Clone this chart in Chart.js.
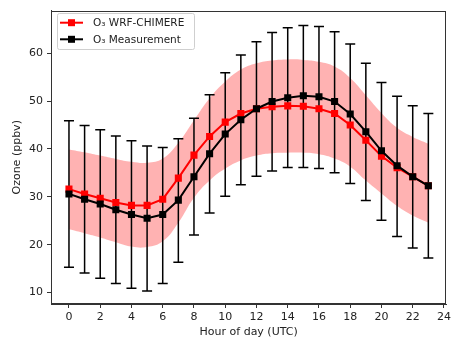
<!DOCTYPE html>
<html>
<head>
<meta charset="utf-8">
<script src="https://cdn.jsdelivr.net/npm/chart.js@4.4.1/dist/chart.umd.min.js"></script>
<style>
  html, body { margin: 0; padding: 0; background: #fff; }
  #wrap { width: 454px; height: 344px; }
</style>
</head>
<body>
<div id="wrap"><canvas id="ozoneChart" width="454" height="344"></canvas></div>
<script>
// Hourly ozone, model vs measurement
const hours = [0, 1, 2, 3, 4, 5, 6, 7, 8, 9, 10, 11, 12, 13, 14, 15, 16, 17, 18, 19, 20, 21, 22, 23];
const modelO3 = [31.6, 30.6, 29.7, 28.8, 28.2, 28.2, 29.5, 33.9, 38.7, 42.6, 45.6, 47.4, 48.4, 48.8, 49.0, 48.9, 48.4, 47.4, 45.0, 41.8, 38.5, 36.1, 34.2, 32.3];
const measO3 = [30.6, 29.5, 28.5, 27.3, 26.3, 25.5, 26.3, 29.3, 34.2, 39.0, 43.1, 46.1, 48.4, 49.9, 50.7, 51.1, 50.9, 49.9, 47.3, 43.6, 39.6, 36.5, 34.2, 32.3];
const measHigh = [45.9, 44.9, 44.0, 42.7, 41.7, 40.6, 40.3, 42.1, 46.4, 51.3, 55.9, 59.6, 62.4, 64.3, 65.3, 65.8, 65.6, 64.5, 61.9, 57.9, 53.9, 51.0, 49.0, 47.4];
const measLow = [15.3, 14.1, 13.0, 11.9, 10.9, 10.3, 11.9, 16.3, 22.0, 26.6, 30.1, 32.5, 34.3, 35.4, 36.1, 36.1, 35.9, 35.0, 32.8, 29.2, 25.1, 21.7, 19.3, 17.2];
const bandHigh = [39.9, 39.3, 38.6, 37.9, 37.3, 37.1, 38.0, 41.3, 46.0, 50.6, 54.1, 56.6, 57.9, 58.5, 58.7, 58.6, 58.2, 57.2, 54.8, 51.2, 47.5, 44.4, 42.5, 41.1];
const bandLow = [23.2, 22.4, 21.5, 20.5, 19.6, 19.5, 20.7, 24.6, 29.8, 33.4, 35.9, 37.6, 38.6, 39.1, 39.2, 39.2, 38.9, 38.0, 36.3, 33.4, 30.7, 28.1, 26.1, 24.6];
const xTicks = [0, 2, 4, 6, 8, 10, 12, 14, 16, 18, 20, 22, 24];
const yTicks = [10, 20, 30, 40, 50, 60];

const FONT = 'DejaVu Sans';
const TEXT_COLOR = '#222';
const FRAME_COLOR = '#333';

function toPoints(values) {
  return hours.map((h, i) => ({ x: h, y: values[i] }));
}

// Error bars for the measurement series, drawn just before the red line
const errorBarPlugin = {
  id: 'errorBars',
  beforeDatasetDraw(chart, args) {
    if (args.index !== 1) return;
    const ctx = chart.ctx;
    const xs = chart.scales.x, ys = chart.scales.y;
    ctx.save();
    ctx.strokeStyle = '#000';
    ctx.lineWidth = 1.5;
    hours.forEach((h, i) => {
      const px = xs.getPixelForValue(h);
      const top = ys.getPixelForValue(measHigh[i]);
      const bot = ys.getPixelForValue(measLow[i]);
      ctx.beginPath();
      ctx.moveTo(px, top);
      ctx.lineTo(px, bot);
      ctx.moveTo(px - 5, top);
      ctx.lineTo(px + 5, top);
      ctx.moveTo(px - 5, bot);
      ctx.lineTo(px + 5, bot);
      ctx.stroke();
    });
    ctx.restore();
  }
};

// Box around the plot and the legend in the upper left corner
const framePlugin = {
  id: 'frameAndLegend',
  afterDraw(chart) {
    const ctx = chart.ctx;
    const a = chart.chartArea;
    ctx.save();
    ctx.strokeStyle = FRAME_COLOR;
    ctx.lineWidth = 1;
    ctx.strokeRect(Math.round(a.left) + 0.5, Math.round(a.top) + 0.5,
      Math.round(a.right - a.left) - 1, Math.round(a.bottom - a.top) - 1);

    // legend
    const bx = 57, by = 13, bw = 137, bh = 36;
    ctx.fillStyle = 'rgba(255,255,255,0.85)';
    ctx.strokeStyle = '#cfcfcf';
    ctx.beginPath();
    ctx.roundRect(bx + 0.5, by + 0.5, bw, bh, 2);
    ctx.fill();
    ctx.stroke();

    const entries = [chart.data.datasets[1], chart.data.datasets[0]];
    entries.forEach((ds, i) => {
      const y = 22.7 + i * 16.6;
      ctx.strokeStyle = ds.borderColor;
      ctx.lineWidth = 2;
      ctx.beginPath();
      ctx.moveTo(60, y);
      ctx.lineTo(83, y);
      ctx.stroke();
      ctx.fillStyle = ds.borderColor;
      ctx.fillRect(71.5 - 3.5, y - 3.5, 7, 7);
      ctx.fillStyle = TEXT_COLOR;
      ctx.font = '10.5px "' + FONT + '"';
      ctx.textBaseline = 'middle';
      ctx.textAlign = 'left';
      ctx.fillText(ds.label, 93, y + 0.5);
    });
    ctx.restore();
  }
};

const ctx = document.getElementById('ozoneChart').getContext('2d');
const chart = new Chart(ctx, {
  type: 'line',
  data: {
    datasets: [
      {
        label: 'O\u2083 Measurement',
        data: toPoints(measO3),
        borderColor: '#000',
        backgroundColor: '#000',
        borderWidth: 2,
        pointStyle: 'rect',
        pointRadius: 5,
        pointBorderWidth: 0,
        tension: 0,
        fill: false
      },
      {
        label: 'O\u2083 WRF-CHIMERE',
        data: toPoints(modelO3),
        borderColor: '#ff0000',
        backgroundColor: '#ff0000',
        borderWidth: 2,
        pointStyle: 'rect',
        pointRadius: 5,
        pointBorderWidth: 0,
        tension: 0,
        fill: false
      },
      {
        label: 'band high',
        data: toPoints(bandHigh),
        borderWidth: 0,
        borderColor: 'rgba(255,0,0,0)',
        backgroundColor: 'rgba(255,0,0,0.3)',
        pointRadius: 0,
        tension: 0.45,
        fill: '+1'
      },
      {
        label: 'band low',
        data: toPoints(bandLow),
        borderWidth: 0,
        borderColor: 'rgba(255,0,0,0)',
        pointRadius: 0,
        tension: 0.45,
        fill: false
      }
    ]
  },
  options: {
    responsive: false,
    animation: false,
    devicePixelRatio: 1,
    layout: { padding: { top: 7, right: 5, left: 0, bottom: 0 } },
    plugins: {
      legend: { display: false },
      tooltip: { enabled: false }
    },
    scales: {
      x: {
        type: 'linear',
        min: -1.15,
        max: 24.15,
        afterBuildTicks: axis => { axis.ticks = xTicks.map(v => ({ value: v })); },
        afterFit: axis => { axis.height = 40; },
        grid: { drawOnChartArea: false, drawTicks: true, tickLength: 4, color: FRAME_COLOR },
        border: { display: true, color: FRAME_COLOR },
        ticks: { color: TEXT_COLOR, font: { family: FONT, size: 11 }, padding: 3, maxRotation: 0 },
        title: {
          display: true,
          text: 'Hour of day (UTC)',
          color: TEXT_COLOR,
          font: { family: FONT, size: 11 },
          padding: { top: 0, bottom: 5 }
        }
      },
      y: {
        type: 'linear',
        min: 7.6,
        max: 68.9,
        afterBuildTicks: axis => { axis.ticks = yTicks.map(v => ({ value: v })); },
        afterFit: axis => { axis.width = 51; },
        grid: { drawOnChartArea: false, drawTicks: true, tickLength: 4, color: FRAME_COLOR },
        border: { display: true, color: FRAME_COLOR },
        ticks: { color: TEXT_COLOR, font: { family: FONT, size: 11 }, padding: 4 },
        title: {
          display: true,
          text: 'Ozone (ppbv)',
          color: TEXT_COLOR,
          font: { family: FONT, size: 11 },
          padding: { top: 11, bottom: 0 }
        }
      }
    }
  },
  plugins: [errorBarPlugin, framePlugin]
});
</script>
</body>
</html>
